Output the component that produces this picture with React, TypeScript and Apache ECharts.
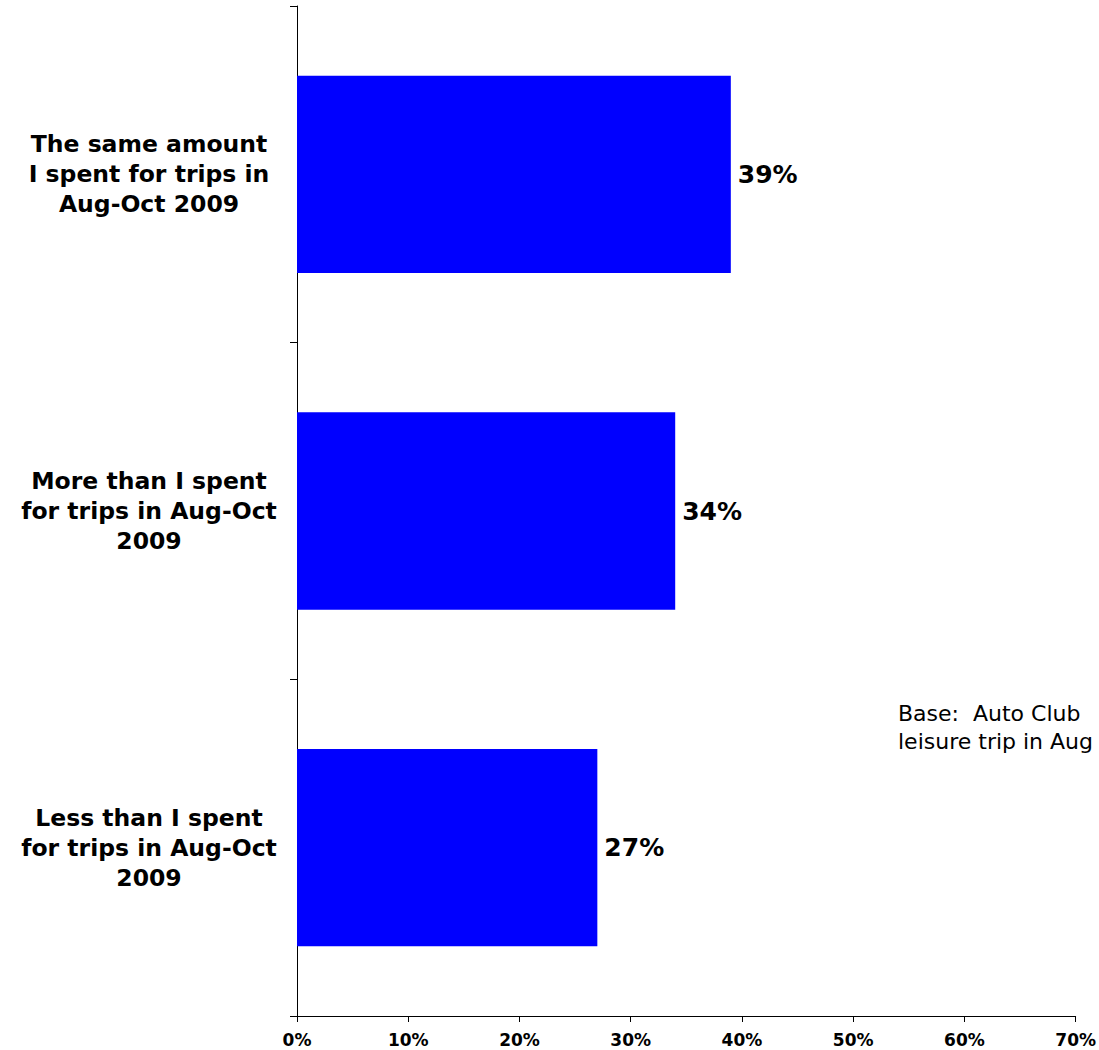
import React, { useEffect, useRef } from "react";
import * as echarts from "echarts";

const categories = [
  "The same amount\nI spent for trips in\nAug-Oct 2009",
  "More than I spent\nfor trips in Aug-Oct\n2009",
  "Less than I spent\nfor trips in Aug-Oct\n2009",
];
const values = [39, 34, 27];
const xTicks = { min: 0, max: 70, interval: 10 };
const noteLines = ["Base:  Auto Club", "leisure trip in Aug"];

export default function App() {
  const ref = useRef<HTMLDivElement>(null);
  useEffect(() => {
    if (!ref.current) return;
    const chart = echarts.init(ref.current, null, { renderer: "svg" });
    const font = "Verdana, 'DejaVu Sans', sans-serif";
    chart.setOption({
      animation: false,
      backgroundColor: "#ffffff",
      grid: { left: 297, right: 22, top: 6, bottom: 34, containLabel: false },
      xAxis: {
        type: "value",
        min: xTicks.min,
        max: xTicks.max,
        interval: xTicks.interval,
        splitLine: { show: false },
        axisLine: { show: true, lineStyle: { color: "#000", width: 1 } },
        axisTick: { show: true, length: 6, lineStyle: { color: "#000" } },
        axisLabel: {
          formatter: "{value}%",
          fontFamily: font,
          fontWeight: "bold",
          fontSize: 17,
          color: "#000",
          margin: 15,
        },
      },
      yAxis: {
        type: "category",
        data: categories,
        inverse: true,
        axisLine: { show: true, lineStyle: { color: "#000", width: 1 } },
        axisTick: { show: true, length: 7, alignWithLabel: false, lineStyle: { color: "#000" } },
        axisLabel: {
          fontFamily: font,
          fontWeight: "bold",
          fontSize: 23.5,
          lineHeight: 30,
          color: "#000",
          align: "center",
          margin: 148,
        },
      },
      series: [
        {
          type: "bar",
          data: values,
          barWidth: "58.6%",
          itemStyle: { color: "#0000FF" },
          label: {
            show: true,
            position: "right",
            distance: 7,
            formatter: "{c}%",
            fontFamily: font,
            fontWeight: "bold",
            fontSize: 25,
            color: "#000",
          },
        },
      ],
      graphic: [
        {
          type: "text",
          left: 898,
          top: 699,
          style: {
            text: noteLines.join("\n"),
            fontFamily: font,
            fontSize: 22,
            lineHeight: 28,
            fill: "#000",
          },
        },
      ],
    });
    return () => chart.dispose();
  }, []);
  return (
    <div
      ref={ref}
      style={{ position: "fixed", left: 0, top: 0, width: 1099, height: 1050 }}
    />
  );
}
